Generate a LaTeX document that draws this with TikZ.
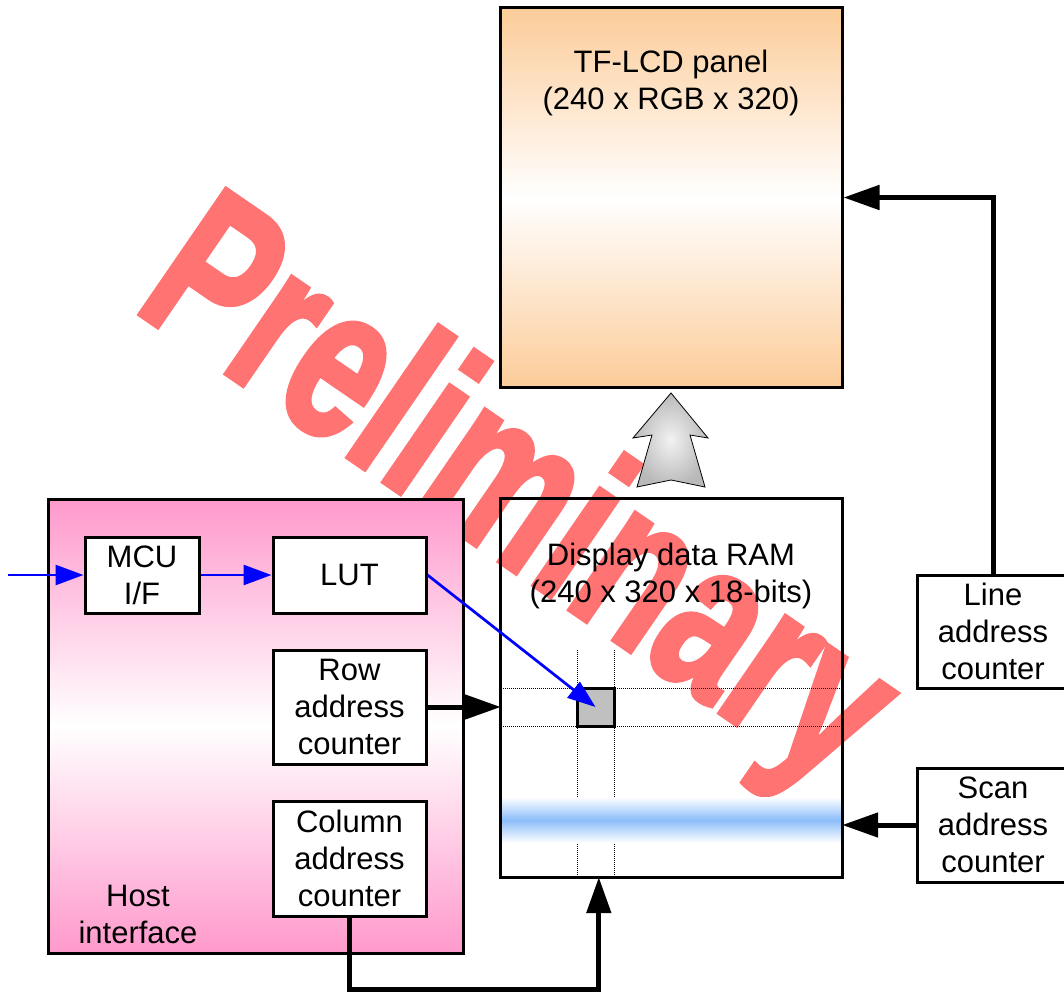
\documentclass[tikz,border=0pt]{standalone}
\usepackage{fontspec}
\setmainfont{Liberation Sans}
\newfontfamily\wmfont{Liberation Sans}[BoldFeatures={FakeBold=2.5}]
\usetikzlibrary{arrows.meta,calc}
\definecolor{lcdorange}{RGB}{252,204,153}
\definecolor{hostpink}{RGB}{255,153,204}
\definecolor{bandblue}{RGB}{140,190,250}
\definecolor{cellgray}{RGB}{192,192,192}
\definecolor{wmred}{RGB}{255,115,115}
\newcommand{\lblfont}{\fontsize{31}{37}\selectfont}
\begin{document}
\begin{tikzpicture}[x=1pt,y=-1pt,
  box/.style={draw, line width=3pt, fill=white, inner sep=0pt, align=center, font=\lblfont},
  big/.style={draw, line width=3pt, inner sep=0pt},
  blk/.style={line width=5pt, -{Triangle[length=36pt,width=24pt]}},
  blu/.style={draw=blue, line width=2.7pt, -{Triangle[length=28pt,width=20pt]}},
  dotline/.style={line width=0.8pt, dash pattern=on 1pt off 1pt},
  txt/.style={inner sep=0pt, align=center, font=\lblfont, anchor=base}]
\clip (0,0) rectangle (1064,992);
\fill[white] (0,0) rectangle (1064,992);
% watermark
\node[rotate=-34.5, xscale=0.71, anchor=base west, inner sep=0pt, text=wmred,
      font=\fontsize{220}{220}\selectfont\wmfont\bfseries] (wm) at (131,308) {Preliminary};
% host interface
\node[big, minimum width=415pt, minimum height=454pt, top color=hostpink, bottom color=hostpink, middle color=white] (host) at (255.5,726) {};
\node[txt] (hosttxt) at (138,943) {Host\\interface};
\node[box, minimum width=114pt, minimum height=76pt] (mcu) at (142,575) {MCU\\I/F};
\node[box, minimum width=153pt, minimum height=76pt] (lut) at (349.5,575) {LUT};
\node[box, minimum width=153pt, minimum height=114pt] (row) at (349.5,707) {Row\\address\\counter};
\node[box, minimum width=153pt, minimum height=115pt] (col) at (349.5,858.5) {Column\\address\\counter};
% LCD panel
\node[big, minimum width=342pt, minimum height=379pt, top color=lcdorange, bottom color=lcdorange, middle color=white] (lcd) at (671,197.5) {};
\node[txt] (lcdtxt) at (671,110) {TF-LCD panel\\(240 x RGB x 320)};
% transfer arrow
\draw[line width=0.8pt, inner color=gray!10, outer color=gray!55]
  (671,393) -- (708,438) -- (690,435) -- (705,487) -- (671,480) -- (637,487) -- (652,435) -- (633,438) -- cycle;
% RAM
\node[minimum width=341pt, minimum height=378pt, inner sep=0pt] (ram) at (671.5,688) {};
\draw[dotline] (501,688) -- (842,688);
\draw[dotline] (501,726) -- (842,726);
\draw[dotline] (577,650) -- (577,877);
\draw[dotline] (614,650) -- (614,877);
\shade[top color=white, bottom color=white, middle color=bandblue] (502.5,797) rectangle (840.5,843);
\draw[line width=3pt] (ram.north west) rectangle (ram.south east);
\node[draw, line width=3pt, fill=cellgray, minimum width=37pt, minimum height=38pt, inner sep=0pt] (cell) at (595.5,707) {};
\node[txt] (ramtxt) at (671,602) {Display data RAM\\(240 x 320 x 18-bits)};
% counters on the right
\node[box, minimum width=152pt, minimum height=113pt] (linec) at (993,631.5) {Line\\address\\counter};
\node[box, minimum width=152pt, minimum height=114pt] (scan) at (993,825) {Scan\\address\\counter};
% connectors
\coordinate (in) at (8,575);
\draw[blu] (in) -- (mcu.west);
\draw[blu] (mcu.east) -- (lut.west);
\draw[blu] (lut.east) -- (cell.center);
\draw[blk] (row.east) -- (row.east -| ram.west);
\draw[blk] (col.south) -- ++(0,72) -| ([xshift=98pt]ram.south west);
\draw[blk] (linec.north) |- (lcd.east);
\draw[blk] (scan.west) -- (scan.west -| ram.east);
\end{tikzpicture}
\end{document}
